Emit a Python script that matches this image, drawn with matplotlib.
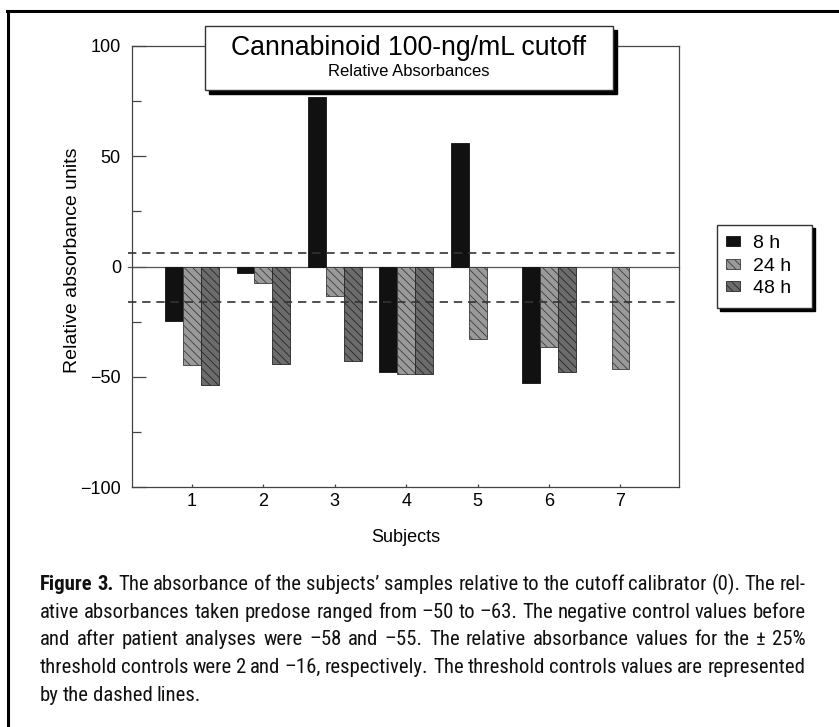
import numpy as np
import matplotlib
matplotlib.use('Agg')
import matplotlib.pyplot as plt
from matplotlib import font_manager as fm
from matplotlib.patches import Patch, Rectangle
from matplotlib.lines import Line2D

# values
subjects = [1, 2, 3, 4, 5, 6, 7]
h8  = [-24.6, -3.0, 77.0, -47.7, 56.0, -52.7, np.nan]
h24 = [-44.7, -7.3, -13.4, -48.8, -32.7, -36.7, -46.6]
h48 = [-53.7, -44.0, -42.7, -48.8, np.nan, -47.7, np.nan]
series_labels = ['8 h', '24 h', '48 h']
thresholds = [6, -16]

title = 'Cannabinoid 100-ng/mL cutoff'
subtitle = 'Relative Absorbances'
caption_bold = 'Figure 3.'
caption_lines = [
    'The absorbance of the subjects\u2019 samples relative to the cutoff calibrator (0). The rel-',
    'ative absorbances taken predose ranged from \u201350 to \u201363. The negative control values before',
    'and after patient analyses were \u201358 and \u201355. The relative absorbance values for the \u00b1 25%',
    'threshold controls were 2 and \u201316, respectively. The threshold controls values are represented',
    'by the dashed lines.',
]

W, H = 839, 727
plt.rcParams['font.family'] = ['Liberation Sans', 'DejaVu Sans']
plt.rcParams['hatch.linewidth'] = 0.6
fig = plt.figure(figsize=(W / 100, H / 100), dpi=100)
ax = fig.add_axes([132 / W, 1 - 487 / H, (679 - 132) / W, (487 - 46) / H])

x = np.array(subjects, dtype=float)
bw = 0.25
styles = [
    dict(facecolor='#111111', edgecolor='#111111'),
    dict(facecolor='#9a9a9a', edgecolor='#3a3a3a', hatch='\\\\\\\\'),
    dict(facecolor='#6c6c6c', edgecolor='#262626', hatch='\\\\\\\\'),
]
for off, vals, st in zip([-bw, 0, bw], [h8, h24, h48], styles):
    ax.bar(x + off, vals, width=bw, linewidth=0.6, zorder=3, **st)

ax.axhline(0, color='#555555', lw=0.9, xmin=-0.008, clip_on=False, zorder=2)
for t in thresholds:
    ax.axhline(t, color='#333333', lw=1.2, ls=(0, (5, 3.5)), xmin=-0.008,
               clip_on=False, zorder=4)

ax.set_xlim(0.16, 7.82)
ax.set_ylim(-100, 100)
ax.set_yticks([-100, -50, 0, 50, 100])
ax.set_yticklabels(['\u2212100', '\u221250', '0', '50', '100'])
ax.set_yticks([-75, -25, 25, 75], minor=True)
ax.set_xticks(subjects)
ax.tick_params(axis='y', which='major', direction='in', length=10, width=0.9,
               labelsize=13, pad=8, color='#444444')
ax.tick_params(axis='y', which='minor', direction='in', length=6.5, width=0.9,
               color='#444444')
ax.tick_params(axis='x', direction='in', length=2.5, width=0.9, labelsize=13,
               pad=4, color='#444444')
for s in ax.spines.values():
    s.set_color('#444444')
    s.set_linewidth(0.9)
ax.set_xlabel('Subjects', fontsize=13)
ax.xaxis.set_label_coords(0.5, -0.095)
ax.set_ylabel('Relative absorbance units', fontsize=14)
ax.yaxis.set_label_coords(-0.093, 0.515)


def shadow_box(x0, y0, x1, y1, off=4):
    # white box with a black drop shadow, in pixel coords from top-left
    fig.add_artist(Rectangle(((x0 + off) / W, 1 - (y1 + off) / H), (x1 - x0) / W, (y1 - y0) / H,
                             transform=fig.transFigure, facecolor='black',
                             edgecolor='black', zorder=5))
    fig.add_artist(Rectangle((x0 / W, 1 - y1 / H), (x1 - x0) / W, (y1 - y0) / H,
                             transform=fig.transFigure, facecolor='white',
                             edgecolor='#333333', lw=1.0, zorder=6))


shadow_box(205, 26, 613, 90)
fig.text(409 / W, 1 - 55 / H, title, ha='center', va='baseline', fontsize=19.2, zorder=7)
fig.text(409 / W, 1 - 76 / H, subtitle, ha='center', va='baseline', fontsize=12, zorder=7)

shadow_box(717, 225, 812, 308, off=3)
handles = [Patch(**st, linewidth=0.6) for st in styles]
leg = fig.legend(handles, series_labels, loc='upper left',
                 bbox_to_anchor=(717 / W, 1 - 226 / H), bbox_transform=fig.transFigure,
                 borderaxespad=0, fontsize=14, handlelength=0.72, handleheight=0.41,
                 handletextpad=0.67, labelspacing=0.3, borderpad=0.45, frameon=False)
leg.set_zorder(8)

# page frame
fig.add_artist(Line2D([7 / W, 1], [1 - 11 / H, 1 - 11 / H], transform=fig.transFigure,
                      color='black', lw=2.2))
fig.add_artist(Line2D([8 / W, 8 / W], [0, 1 - 11 / H], transform=fig.transFigure,
                      color='black', lw=2.2))

# caption font: prefer a narrow face if one is installed
cap_kw = dict(family=['Roboto', 'DejaVu Sans'])
names = {f.name for f in fm.fontManager.ttflist}
for cand in ['Liberation Sans Narrow', 'Roboto Condensed', 'Open Sans Condensed',
             'Noto Sans Condensed', 'Arial Narrow']:
    if cand in names:
        cap_kw = dict(family=[cand, 'DejaVu Sans'])
        break
else:
    cond = [f for f in fm.fontManager.ttflist
            if f.stretch in ('condensed', 'semi-condensed', 500 - 125, 'narrow')
            and f.style == 'normal']
    if cond:
        cap_kw = dict(family=[cond[0].name, 'DejaVu Sans'], stretch=cond[0].stretch)

renderer = fig.canvas.get_renderer()


def text_w(s, **kw):
    t = fig.text(0, 0, s, **kw)
    w = t.get_window_extent(renderer).width
    t.remove()
    return w


tokens = []
for i, line in enumerate(caption_lines):
    row = [(w, 'normal') for w in line.split(' ')]
    if i == 0:
        row = [(w, 'bold') for w in caption_bold.split(' ')] + row
    tokens.append(row)

base = 14.0
left, right = 40, 806
space = text_w('a a', fontsize=base, **cap_kw) - text_w('aa', fontsize=base, **cap_kw)
space *= 0.8
widths = [[text_w(w, fontsize=base, fontweight=wt, **cap_kw) for w, wt in row]
          for row in tokens]
natural = [sum(ws) + space * (len(ws) - 1) for ws in widths]
fs = base * min((right - left) / n for n in natural[:-1])
scale = fs / base

for i, (row, ws) in enumerate(zip(tokens, widths)):
    ws = [w * scale for w in ws]
    if i < len(tokens) - 1:
        gap = (right - left - sum(ws)) / (len(ws) - 1)
    else:
        gap = space * scale
    yy = 1 - (590 + i * 27.7) / H
    xx = left
    for (word, wt), w in zip(row, ws):
        fig.text(xx / W, yy, word, fontsize=fs, fontweight=wt, va='baseline',
                 color='#111111', **cap_kw)
        xx += w + gap

fig.savefig('out.png', dpi=100)
